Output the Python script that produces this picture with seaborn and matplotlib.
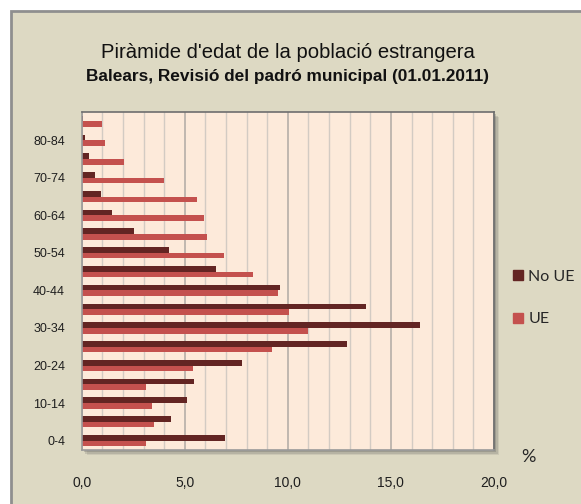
import pandas as pd
import seaborn as sns
import matplotlib.pyplot as plt
from matplotlib import font_manager
from matplotlib.patches import Rectangle
from matplotlib.lines import Line2D
from matplotlib.ticker import MultipleLocator, FuncFormatter

# Age groups, bottom to top
age_groups = ["0-4", "5-9", "10-14", "15-19", "20-24", "25-29", "30-34", "35-39",
              "40-44", "45-49", "50-54", "55-59", "60-64", "65-69", "70-74",
              "75-79", "80-84", "85+"]
no_ue = [6.95, 4.31, 5.12, 5.43, 7.76, 12.87, 16.39, 13.8, 9.63, 6.5, 4.23,
         2.54, 1.49, 0.94, 0.65, 0.34, 0.16, 0.08]
ue = [3.14, 3.5, 3.4, 3.1, 5.38, 9.25, 10.99, 10.08, 9.5, 8.3, 6.9,
      6.09, 5.95, 5.6, 4.0, 2.07, 1.15, 0.97]
series = ["No UE", "UE"]
colors = ["#632523", "#C4514E"]

df = pd.DataFrame({
    "edat": age_groups * 2,
    "valor": no_ue + ue,
    "grup": [series[0]] * len(age_groups) + [series[1]] * len(age_groups),
})

sns.set_style("white")


def pick(names):
    have = {f.name for f in font_manager.fontManager.ttflist}
    return [n for n in names if n in have] + ["DejaVu Sans"]


narrow = pick(["Liberation Sans Narrow", "Liberation Sans"])
arial = pick(["Liberation Sans"])
legend_font = pick(["Lato", "Open Sans"])
plt.rcParams["font.family"] = arial

W, H = 581, 504
fig = plt.figure(figsize=(W / 100, H / 100), dpi=100)
fig.patch.set_facecolor("white")

# chart background
fig.patches.append(Rectangle((11 / W, -0.01), 1, 1 - 11 / H + 0.01, transform=fig.transFigure,
                             facecolor="#DDD9C3", edgecolor="#8F8F8F", lw=2, zorder=-3))

left, right, top, bottom = 81.7, 494, 112, 450
ax = fig.add_axes([left / W, 1 - bottom / H, (right - left) / W, (bottom - top) / H])

# plot area shadow
for off, a in [(5, 0.12), (3.5, 0.18), (2, 0.25)]:
    fig.patches.append(Rectangle(((left + off) / W, 1 - (bottom + off) / H),
                                 (right - left) / W, (bottom - top) / H,
                                 transform=fig.transFigure, facecolor="#555555",
                                 edgecolor="none", alpha=a, zorder=-1))

order = age_groups[::-1]
sns.barplot(data=df, y="edat", x="valor", hue="grup", order=order, hue_order=series,
            palette=colors, orient="h", width=0.6, ax=ax, legend=False, saturation=1,
            linewidth=0)

ax.set_facecolor("#FDEADA")
ax.set_xlim(0, 20)
ax.set_ylim(len(order) - 0.5, -0.5)
ax.set_xlabel("")
ax.set_ylabel("")

ax.xaxis.set_major_locator(MultipleLocator(5))
ax.xaxis.set_minor_locator(MultipleLocator(1))
ax.xaxis.set_major_formatter(FuncFormatter(lambda v, p: f"{v:.1f}".replace(".", ",")))
ax.grid(which="minor", axis="x", color="#D3CBC3", lw=1)
ax.grid(which="major", axis="x", color="#B5AFA8", lw=1.2)
ax.set_axisbelow(True)

ax.set_yticks(range(len(order)))
ax.set_yticklabels([lab if age_groups.index(lab) % 2 == 0 and lab != "85+" else ""
                    for lab in order])
ax.tick_params(axis="y", length=0, pad=12, labelsize=9, labelcolor="#1E1E1E")
ax.tick_params(axis="x", which="major", length=4, color="#8C8C8C", pad=15,
               labelsize=10, labelcolor="#1E1E1E")
ax.tick_params(axis="x", which="minor", length=2, color="#BBBBBB")
for lab in ax.get_yticklabels() + ax.get_xticklabels():
    lab.set_family(narrow)

for s in ["top", "right"]:
    ax.spines[s].set_color("#6E6E6E")
    ax.spines[s].set_linewidth(1.2)
for s in ["left", "bottom"]:
    ax.spines[s].set_color("#9A9A9A")
    ax.spines[s].set_linewidth(1.2)

fig.text(288 / W, 1 - 53 / H, "Piràmide d'edat de la població estrangera",
         ha="center", va="center", fontsize=14.6, family=arial, color="#111111")
fig.text(287 / W, 1 - 77 / H, "Balears, Revisió del padró municipal (01.01.2011)",
         ha="center", va="center", fontsize=12.4, fontweight="bold", family=narrow,
         color="#111111")
fig.text(528 / W, 1 - 457 / H, "%", ha="center", va="center", fontsize=13,
         family=legend_font, color="#262626")

handles = [Line2D([], [], marker="s", ls="none", markersize=7.5, color=c) for c in colors]
ax.legend(handles, series, loc="center left", bbox_to_anchor=(498 / W, 1 - 298 / H),
          bbox_transform=fig.transFigure, frameon=False, handlelength=0.7,
          handletextpad=0.3, labelspacing=1.75,
          prop={"family": legend_font, "size": 11.5})

fig.savefig("out.png", dpi=100)
